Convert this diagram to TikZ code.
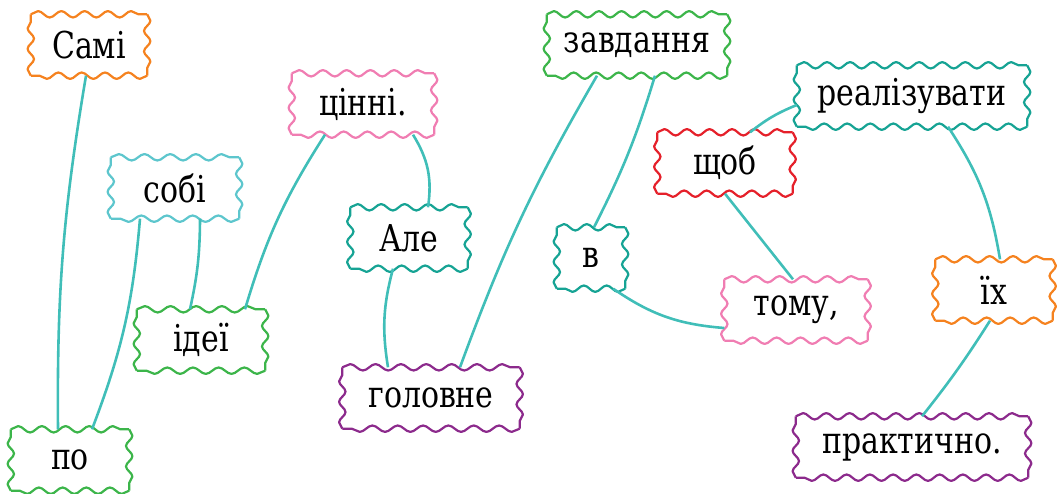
\documentclass[tikz,border=0pt]{standalone}
\usepackage{fontspec}
\newfontfamily\wordfont{DejaVu Serif Condensed}[FakeStretch=0.9]
\usepackage{tikz}
\usetikzlibrary{decorations.pathmorphing}
\definecolor{wordorange}{HTML}{F5821F}
\definecolor{wordcyan}{HTML}{5DC6CD}
\definecolor{wordgreen}{HTML}{3CB54A}
\definecolor{wordpink}{HTML}{F07DB2}
\definecolor{wordteal}{HTML}{16A394}
\definecolor{wordpurple}{HTML}{8C2A8C}
\definecolor{wordred}{HTML}{E5202A}
\definecolor{linkteal}{HTML}{40BEB8}

\begin{document}
\begin{tikzpicture}[x=1pt,y=1pt,
  word/.style={minimum height=61pt,inner sep=0pt,font=\wordfont\fontsize{37}{44}\selectfont},
  wavy/.style={draw=#1,line width=2.2pt,line join=round,decorate,
    decoration={snake,amplitude=3.2pt}},
  link/.style={draw=linkteal,line width=2.6pt}]
  \useasboundingbox (0,0) rectangle (1061,493);
  \node[word,minimum width=116pt] (sami) at (89,448) {Самі};
  \node[word,minimum width=128pt] (sobi) at (175,305) {собі};
  \node[word,minimum width=128pt] (idei) at (201,153) {ідеї};
  \node[word,minimum width=118pt] (po) at (70,33) {по};
  \node[word,minimum width=142pt] (cinni) at (363,389) {цінні.};
  \node[word,minimum width=117pt] (ale) at (409,255) {Але};
  \node[word,minimum width=177pt] (golovne) at (431,95) {головне};
  \node[word,minimum width=180pt] (zavd) at (637,448) {завдання};
  \node[word,minimum width=68pt] (v) at (591,235) {в};
  \node[word,minimum width=135pt] (shchob) at (725,330) {щоб};
  \node[word,minimum width=143pt] (tomu) at (796,183) {тому,};
  \node[word,minimum width=230pt] (real) at (912,397) {реалізувати};
  \node[word,minimum width=117pt] (yikh) at (994,203) {їх};
  \node[word,minimum width=232pt] (prakt) at (912,46) {практично.};

  \foreach \n/\c in {sami/wordorange,sobi/wordcyan,idei/wordgreen,po/wordgreen,
      cinni/wordpink,ale/wordteal,golovne/wordpurple,zavd/wordgreen,v/wordteal,
      shchob/wordred,tomu/wordpink,real/wordteal,yikh/wordorange,prakt/wordpurple}{
    \pgfpointdiff{\pgfpointanchor{\n}{south west}}{\pgfpointanchor{\n}{north east}}
    \pgfgetlastxy{\boxw}{\boxh}
    \pgfmathsetmacro\segw{\boxw/round(\boxw/24)}
    \pgfmathsetmacro\segh{\boxh/round(\boxh/21)}
    \draw[wavy=\c,decoration={segment length=\segw pt}] (\n.north west) -- (\n.north east);
    \draw[wavy=\c,decoration={segment length=\segh pt}] (\n.north east) -- (\n.south east);
    \draw[wavy=\c,decoration={segment length=\segw pt}] (\n.south east) -- (\n.south west);
    \draw[wavy=\c,decoration={segment length=\segh pt}] (\n.south west) -- (\n.north west);
  }

  \draw[link] ([xshift=-3pt]sami.south) to[bend right=5] ([xshift=-12pt]po.north);
  \draw[link] ([xshift=-35pt]sobi.south) to[bend left=8] ([xshift=22pt]po.north);
  \draw[link] ([xshift=25pt]sobi.south) to[bend left=6] ([xshift=-11pt]idei.north);
  \draw[link] ([xshift=44pt]idei.north) to[bend left=8] ([xshift=-38pt]cinni.south);
  \draw[link] ([xshift=50pt]cinni.south) to[bend left=20] ([xshift=19pt]ale.north);
  \draw[link] ([xshift=-16pt]ale.south) to[bend right=12] ([xshift=-43pt]golovne.north);
  \draw[link] ([xshift=29pt]golovne.north) to[bend left=5] ([xshift=-40pt]zavd.south);
  \draw[link] ([xshift=18pt]zavd.south) to[bend left=5] ([xshift=3pt]v.north);
  \draw[link] ([xshift=-12pt]v.south east) to[bend right=15] ([yshift=-18pt]tomu.west);
  \draw[link] ([xshift=25pt]shchob.north) to[bend left=8] ([yshift=-9pt]real.west);
  \draw[link] (shchob.south) -- ([xshift=-3pt]tomu.north);
  \draw[link] ([xshift=36pt]real.south) to[bend left=12] ([xshift=6pt]yikh.north);
  \draw[link] ([xshift=-4pt]yikh.south) to[bend left=3] ([xshift=10pt]prakt.north);
\end{tikzpicture}
\end{document}
